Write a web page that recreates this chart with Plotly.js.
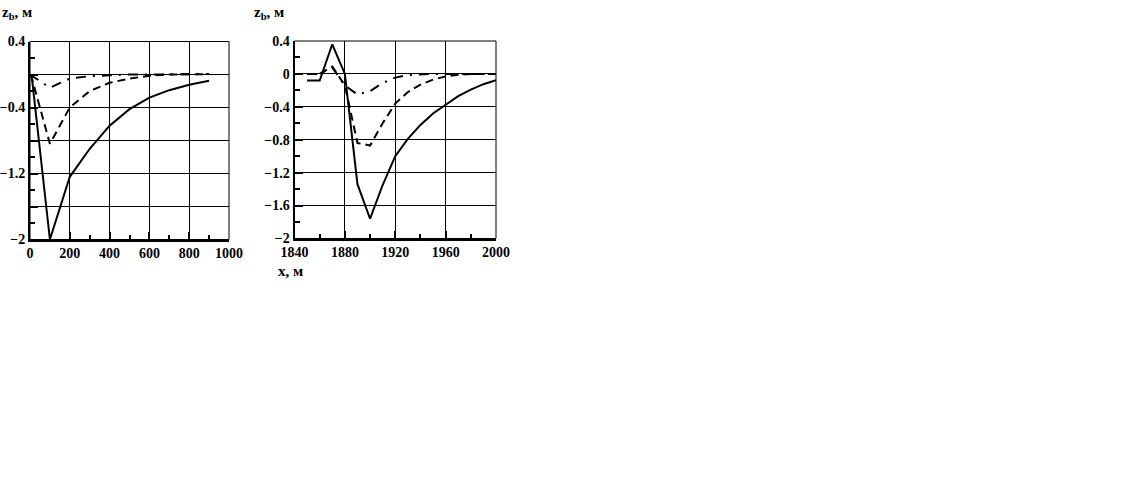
<!DOCTYPE html>
<html>
<head>
<meta charset="utf-8">
<script src="https://cdn.plot.ly/plotly-3.0.1.min.js"></script>
<style>html,body{margin:0;padding:0;background:#fff;}#chart{width:1147px;height:498px;}</style>
</head>
<body>
<div id="chart"></div>
<script>
// Left panel data
const leftX = [0, 10, 100, 200, 300, 400, 500, 600, 700, 800, 900];
const leftSolid = [0, -0.05, -2.0, -1.24, -0.9, -0.62, -0.42, -0.28, -0.19, -0.125, -0.075];
const leftDashed = [0, -0.05, -0.84, -0.40, -0.2, -0.1, -0.05, -0.015, 0, 0.005, 0.005];
const leftXdd = [0, 100, 200, 300, 400, 500, 600, 700, 800, 900];
const leftDashDot = [0, -0.16, -0.05, -0.02, -0.01, 0, 0, 0, 0, 0.005];

// Right panel data
const rightX = [1850, 1860, 1870, 1880, 1890, 1900, 1910, 1920, 1930, 1940, 1950, 1960, 1970, 1980, 1990, 2000];
const rightSolid = [-0.08, -0.08, 0.36, 0.0, -1.34, -1.76, -1.35, -1.0, -0.79, -0.62, -0.48, -0.37, -0.27, -0.19, -0.125, -0.075];
const rightDashed = [0, 0, 0.09, -0.14, -0.84, -0.87, -0.6, -0.36, -0.22, -0.13, -0.07, -0.03, -0.01, 0, 0, 0];
const rightDashDot = [0, 0, 0.08, -0.14, -0.25, -0.21, -0.11, -0.045, -0.015, -0.005, 0, 0, 0, 0, 0, 0];

// Tick settings (values)
const yRange = [-2, 0.4];
const yTickStart = 0.4, yTickStep = 0.4, yMinorStep = 0.2;
const leftLabelStep = 2, rightLabelStep = 1;
const leftXTicks = [0, 200, 400, 600, 800, 1000];
const rightXTicks = [1840, 1880, 1920, 1960, 2000];

const yTitle = 'z<sub>b</sub>, м';
const xTitle = 'x, м';

const W = 1147, H = 498;
const px = v => v / W;
const py = v => 1 - v / H;

const serif = 'Liberation Serif, Times New Roman, serif';
const tickFont = {family: serif, size: 14, color: '#000', weight: 'bold'};
const titleFont = {family: serif, size: 15, color: '#000', weight: 'bold'};

function line(x, y, xa, ya, dash) {
  return {x: x, y: y, xaxis: xa, yaxis: ya, mode: 'lines', type: 'scatter',
    line: {color: '#000', width: 2, dash: dash}, showlegend: false, hoverinfo: 'skip'};
}

const data = [
  line(leftX, leftSolid, 'x', 'y', 'solid'),
  line(leftX, leftDashed, 'x', 'y', '8px,5px'),
  line(leftXdd, leftDashDot, 'x', 'y', '10px,7px,2px,7px'),
  line(rightX, rightSolid, 'x2', 'y2', 'solid'),
  line(rightX, rightDashed, 'x2', 'y2', '8px,5px'),
  line(rightX, rightDashDot, 'x2', 'y2', '10px,7px,2px,7px')
];

function xAxis(domain, range, tickvals, minorDtick, anchor) {
  return {domain: domain, range: range, anchor: anchor, tickmode: 'array', tickvals: tickvals,
    ticktext: tickvals.map(String), showgrid: true, gridcolor: '#000', gridwidth: 1,
    showline: true, linecolor: '#000', linewidth: 2, mirror: false, zeroline: false,
    ticks: 'inside', ticklen: 8, tickwidth: 2, tickcolor: '#000', tickfont: tickFont,
    minor: {dtick: minorDtick, ticks: 'inside', ticklen: 5, tickwidth: 2, tickcolor: '#000', showgrid: false}};
}
function yAxis(domain, labelStep, anchor) {
  return {domain: domain, range: yRange, anchor: anchor, tickmode: 'linear', tick0: yTickStart, dtick: yTickStep,
    ticklabelstep: labelStep, showgrid: true, gridcolor: '#000', gridwidth: 1,
    showline: true, linecolor: '#000', linewidth: 2, mirror: false, zeroline: false,
    ticks: 'inside', ticklen: 8, tickwidth: 2, tickcolor: '#000', tickfont: tickFont,
    minor: {dtick: yMinorStep, tick0: 0, ticks: 'inside', ticklen: 5, tickwidth: 2, tickcolor: '#000', showgrid: false}};
}

const layout = {
  width: W, height: H, autosize: false,
  margin: {l: 0, r: 0, t: 0, b: 0},
  paper_bgcolor: '#fff', plot_bgcolor: '#fff',
  showlegend: false,
  xaxis: xAxis([px(30), px(229)], [0, 1000], leftXTicks, 100, 'y'),
  yaxis: yAxis([py(239.5), py(41.5)], leftLabelStep, 'x'),
  xaxis2: xAxis([px(294.5), px(496)], [1840, 2000], rightXTicks, 20, 'y2'),
  yaxis2: yAxis([py(238.5), py(41)], rightLabelStep, 'x2'),
  shapes: [
    {type: 'rect', xref: 'x domain', yref: 'y domain', x0: 0, x1: 1, y0: 0, y1: 1, line: {color: '#000', width: 1}},
    {type: 'rect', xref: 'x2 domain', yref: 'y2 domain', x0: 0, x1: 1, y0: 0, y1: 1, line: {color: '#000', width: 1}}
  ],
  annotations: [
    {text: yTitle, xref: 'paper', yref: 'paper', x: px(0), y: py(13), xanchor: 'left', yanchor: 'middle',
      showarrow: false, font: titleFont},
    {text: yTitle, xref: 'paper', yref: 'paper', x: px(252), y: py(13), xanchor: 'left', yanchor: 'middle',
      showarrow: false, font: titleFont},
    {text: xTitle, xref: 'paper', yref: 'paper', x: px(276), y: py(271), xanchor: 'left', yanchor: 'middle',
      showarrow: false, font: titleFont}
  ]
};

Plotly.newPlot('chart', data, layout, {displayModeBar: false, staticPlot: true});
</script>
</body>
</html>
